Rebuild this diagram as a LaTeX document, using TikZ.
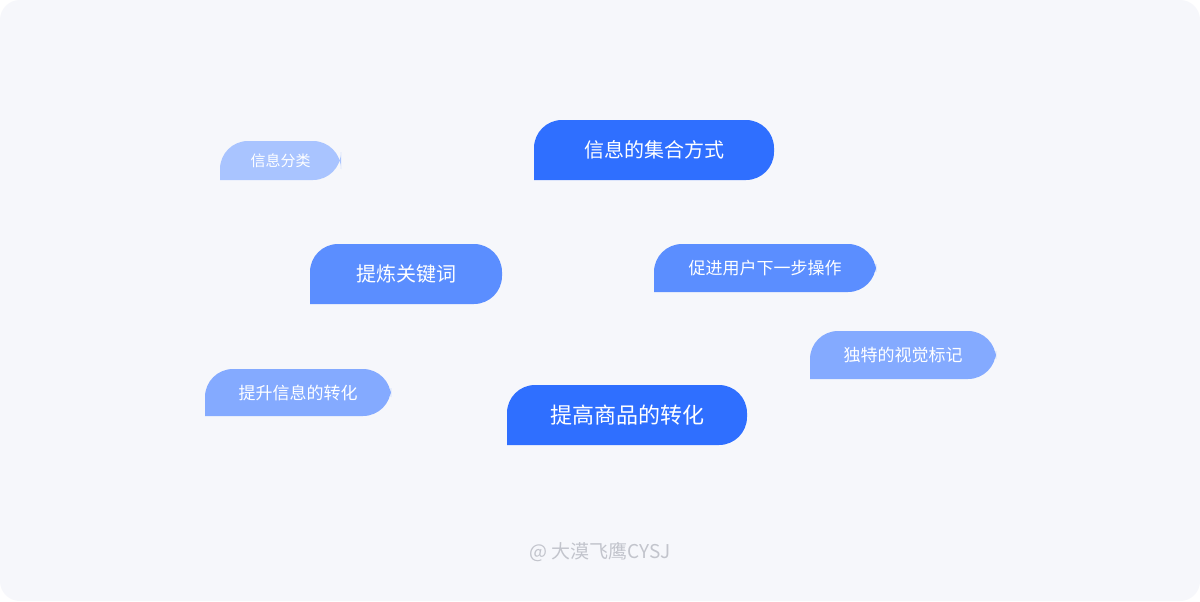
\documentclass[tikz,border=0pt]{standalone}
\usepackage{fontspec}
\newfontfamily\cjk{Noto Sans CJK SC}
\definecolor{bg}{HTML}{F6F7FB}
\definecolor{cA}{HTML}{2F6FFF}
\definecolor{cB}{HTML}{5B8EFF}
\definecolor{cC}{HTML}{84AAFF}
\definecolor{cD}{HTML}{A9C4FF}
\definecolor{wm}{HTML}{C2C4CC}
\tikzset{x=0.5pt,y=-0.5pt,
  tagtext/.style={text=white,font=\cjk,inner sep=0pt}}
\newcommand{\tagbox}[8]{%
  \fill[#6] (#2,#5) [rounded corners=14pt] -- (#2,#3) -- (#4,#3) -- (#4,#5) [sharp corners] -- cycle;
  \node[tagtext,font=\cjk\fontsize{#7}{#7}\selectfont] (#1) at ({(#2+#4)/2},{(#3+#5)/2}) {#8};}
\begin{document}
\begin{tikzpicture}
\fill[white] (0,0) rectangle (1200,601);
\useasboundingbox (0,0) rectangle (1200,601);
\fill[bg,rounded corners=10pt] (0,0) rectangle (1200,601);
\tagbox{a}{220}{141}{341}{180}{cD}{7.5pt}{信息分类}
\tagbox{b}{534}{120}{774}{180}{cA}{10pt}{信息的集合方式}
\tagbox{c}{310}{244}{502}{304}{cB}{10pt}{提炼关键词}
\tagbox{d}{654}{244}{876}{292}{cB}{8.5pt}{促进用户下一步操作}
\tagbox{e}{810}{331}{996}{379}{cC}{8.5pt}{独特的视觉标记}
\tagbox{f}{205}{369}{391}{416}{cC}{8.5pt}{提升信息的转化}
\tagbox{g}{507}{385}{747}{445}{cA}{11pt}{提高商品的转化}
\node[text=wm,font=\cjk\fontsize{9.5pt}{9.5pt}\selectfont] (w) at (600,552) {@ 大漠飞鹰CYSJ};
\end{tikzpicture}
\end{document}
